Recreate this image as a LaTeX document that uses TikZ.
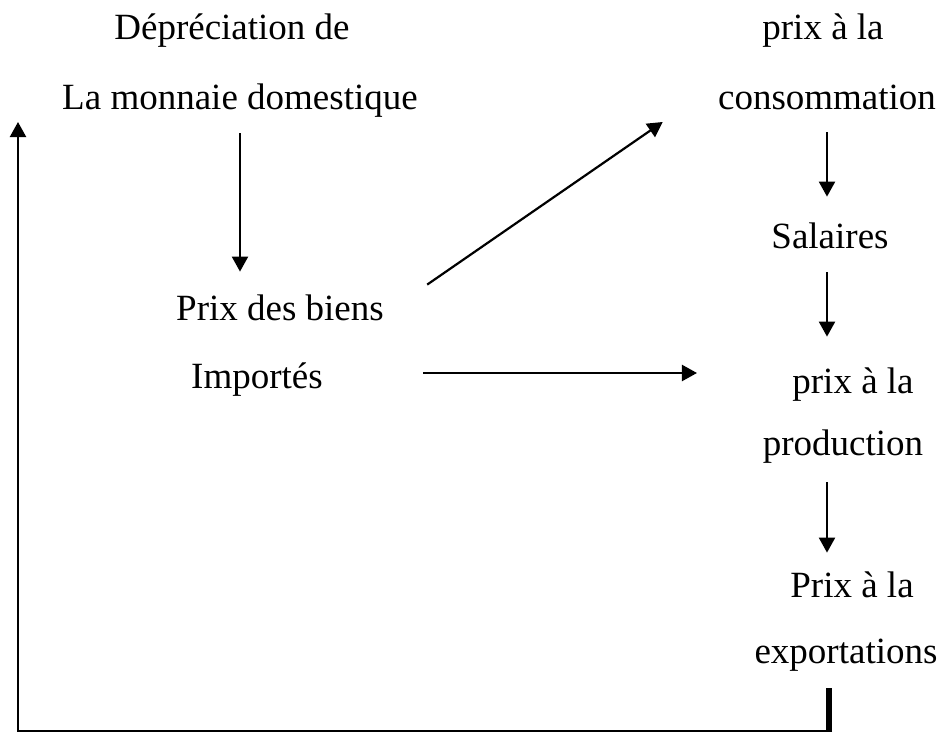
\documentclass[tikz,border=0pt]{standalone}
\usepackage{fontspec}
\setmainfont{Liberation Serif}
\usepackage{tikz}
\usetikzlibrary{arrows.meta, positioning}

\begin{document}
\begin{tikzpicture}[x=0.5pt,y=-0.5pt,>={Triangle[length=7.5pt,width=8pt]},
      every node/.style={inner sep=0pt,anchor=base,text height=13pt,text depth=4pt,
        font=\fontsize{18.5}{22}\selectfont},
      arr/.style={->,line width=1.1pt}]
      \useasboundingbox (0,0) rectangle (941,733);
      % left column
      \node (dep)  at (232,40)  {Dépréciation de};
      \node (mon)  at (240,110) {La monnaie domestique};
      \node (pdb)  at (280,320) {Prix des biens};
      \node (imp)  at (257,388) {Importés};
      % right column
      \node (pc)   at (823,40)  {prix à la};
      \node (cons) at (827,110) {consommation};
      \node (sal)  at (830,248) {Salaires};
      \node (pp)   at (853,393) {prix à la};
      \node (prod) at (843,455) {production};
      \node (pe)   at (852,597) {Prix à la};
      \node (expo) at (846,663) {exportations};
      \coordinate (corner) at (18,731);
      \coordinate (ret) at (18,122);
      \draw[arr,shorten <=7.5pt,shorten >=11pt] (mon.south) -- (mon.south |- pdb.north);
      \draw[arr] ([xshift=21.5pt,yshift=4.5pt]pdb.north east) -- ([xshift=-27.5pt,yshift=-10.5pt]cons.west);
      \draw[arr] ([xshift=50pt,yshift=3pt]imp.east) -- ([xshift=-47.5pt,yshift=5.5pt]pp.west);
      \draw[arr,shorten <=7pt,shorten >=12.5pt] (cons.south) -- (cons.south |- sal.north);
      \draw[arr,shorten <=8pt,shorten >=15pt] (sal.south -| cons.south) -- (cons.south |- pp.north);
      \draw[arr,shorten <=9.5pt,shorten >=9pt] (prod.south -| cons.south) -- (cons.south |- pe.north);
      % feedback loop
      \draw[line width=3pt,shorten <=8.5pt] ([xshift=1pt]expo.south -| cons.south) -- ([xshift=1pt]cons.south |- corner);
      \draw[arr] ([xshift=2.5pt]cons.south |- corner) -- (corner) -- (ret);
    \end{tikzpicture}
\end{document}
